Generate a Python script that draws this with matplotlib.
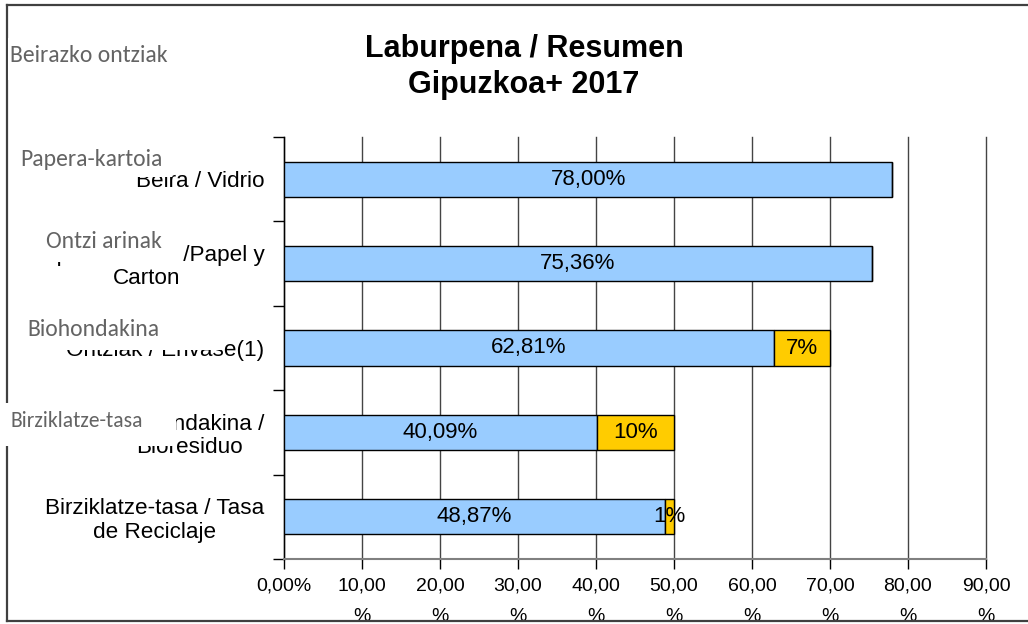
import matplotlib
matplotlib.use('Agg')
import matplotlib.pyplot as plt
from matplotlib.patches import Rectangle
from matplotlib.lines import Line2D
from matplotlib import font_manager as fm

# ---- data ----
categories = ["Beira / Vidrio",
              "Papera-kartoia /Papel y\nCarton",
              "Ontziak / Envase(1)",
              "Biohondakina /\nBioresiduo",
              "Birziklatze-tasa / Tasa\nde Reciclaje"]
collected = [78.00, 75.36, 62.81, 40.09, 48.87]
remaining = [0.0, 0.0, 7.19, 9.91, 1.13]
xtick_values = [0, 10, 20, 30, 40, 50, 60, 70, 80, 90]
xtick_labels = ["0,00%", "10,00\n%", "20,00\n%", "30,00\n%", "40,00\n%",
                "50,00\n%", "60,00\n%", "70,00\n%", "80,00\n%", "90,00\n%"]
overlay_labels = ["Beirazko ontziak", "Papera-kartoia", "Ontzi arinak",
                  "Biohondakina", "Birziklatze-tasa"]
title_lines = ["Laburpena / Resumen", "Gipuzkoa+ 2017"]


def has_font(name):
    try:
        fm.findfont(fm.FontProperties(family=name), fallback_to_default=False)
        return True
    except Exception:
        return False


main_font = 'Liberation Sans'
narrow_font = 'Liberation Sans Narrow' if has_font('Liberation Sans Narrow') else main_font
overlay_font = 'Carlito' if has_font('Carlito') else 'Lato'
plt.rcParams['font.family'] = [main_font, 'DejaVu Sans']

W, H = 1028, 624
fig = plt.figure(figsize=(W / 100, H / 100), dpi=100)


def fx(px):
    return px / W


def fy(py):
    return 1 - py / H


ax = fig.add_axes([fx(284), fy(559), fx(986) - fx(284), fy(137) - fy(559)])

n = len(categories)
ypos = list(range(n - 1, -1, -1))
bar_h = 0.415

ax.barh(ypos, collected, height=bar_h, color='#99CCFF',
        edgecolor='black', linewidth=1, zorder=3)
ax.barh(ypos, remaining, left=collected, height=bar_h, color='#FFCC00',
        edgecolor='black', linewidth=1, zorder=3)

for y, v in zip(ypos, collected):
    ax.text(v / 2, y, f"{v:.2f}%".replace('.', ','), ha='center', va='center',
            fontsize=16, color='black', zorder=4)
for y, c, v in zip(ypos, collected, remaining):
    if v > 0:
        ax.text(c + v / 2, y, f"{v:.0f}%", ha='center', va='center',
                fontsize=16, color='black', zorder=4)

ax.set_xlim(0, 90)
ax.set_ylim(-0.5, n - 0.5)

ax.set_xticks(xtick_values)
ax.set_xticklabels(xtick_labels, fontsize=14, family=narrow_font, linespacing=2.05)
ax.tick_params(axis='x', length=7, width=1, color='black', direction='out', pad=6)

ax.set_yticks(ypos)
ax.set_yticklabels(categories, fontsize=16.2, multialignment='center', linespacing=1.15)
ax.tick_params(axis='y', which='major', length=0, pad=14)
ax.set_yticks([i - 0.5 for i in range(n + 1)], minor=True)
ax.tick_params(axis='y', which='minor', length=8, width=1, color='black', direction='out')

ax.set_axisbelow(True)
ax.xaxis.grid(True, color='#444444', linewidth=1)
for gl in ax.get_xgridlines():
    gl.set_clip_on(False)
ax.spines['top'].set_visible(False)
ax.spines['right'].set_visible(False)
ax.spines['left'].set_color('black')
ax.spines['left'].set_linewidth(1)
ax.spines['bottom'].set_color('#808080')
ax.spines['bottom'].set_linewidth(1.5)

# title
fig.text(fx(524), fy(57), title_lines[0], ha='center', va='baseline',
         fontsize=22, fontweight='bold')
fig.text(fx(524), fy(93), title_lines[1], ha='center', va='baseline',
         fontsize=22, fontweight='bold')

# outer frame
frame_kw = dict(color='#404040', linewidth=1.6, transform=fig.transFigure, zorder=20)
fig.add_artist(Line2D([fx(7), fx(7)], [fy(5), fy(621)], **frame_kw))
fig.add_artist(Line2D([fx(7), 1.0], [fy(5), fy(5)], **frame_kw))
fig.add_artist(Line2D([fx(7), 1.0], [fy(621), fy(621)], **frame_kw))

# overlaid text boxes (white background)
overlay_boxes = [(8, 38, 175, 80), (15, 138, 172, 177), (28, 222, 181, 262),
                 (20, 310, 224, 350), (0, 403, 176, 446)]
overlay_pos = [(10, 56), (20, 159), (46, 242), (27, 330), (10, 421)]
overlay_sizes = [17, 17, 17, 17, 15.6]
for label, (x0, y0, x1, y1), (tx, ty), fs in zip(overlay_labels, overlay_boxes,
                                                  overlay_pos, overlay_sizes):
    fig.add_artist(Rectangle((fx(x0), fy(y1)), fx(x1) - fx(x0), fy(y0) - fy(y1),
                             transform=fig.transFigure, facecolor='white',
                             edgecolor='none', zorder=30))
    fig.text(fx(tx), fy(ty), label, ha='left', va='center', fontsize=fs,
             family=overlay_font, color='#646464', zorder=31)

fig.savefig('out.png', dpi=100, facecolor='white')
